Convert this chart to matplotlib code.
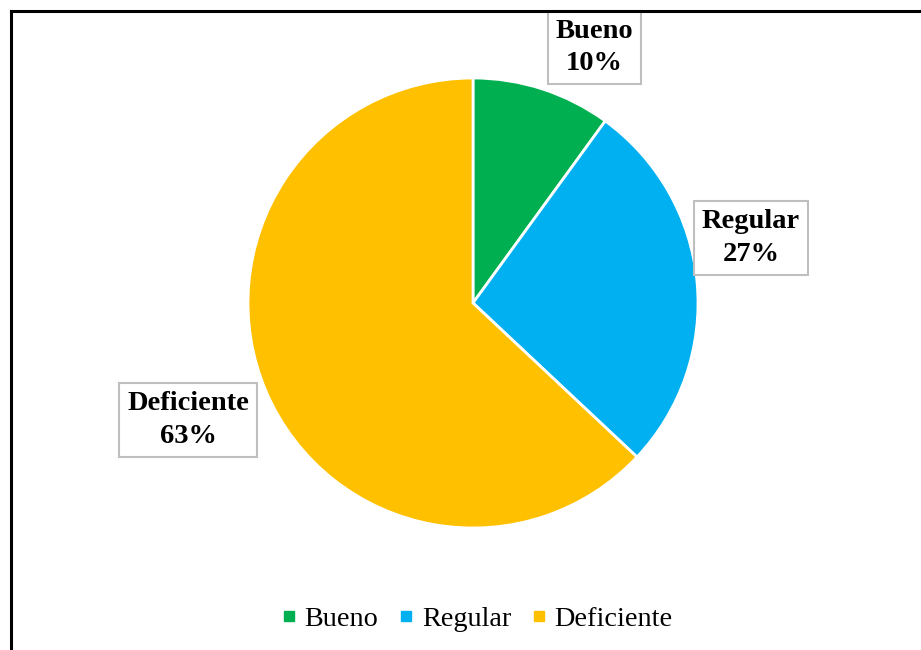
import matplotlib.pyplot as plt
from matplotlib.lines import Line2D

categorias = ['Bueno', 'Regular', 'Deficiente']
porcentajes = [10, 27, 63]
colores = ['#00B050', '#00B0F0', '#FFC000']

plt.rcParams['font.family'] = ['Liberation Serif', 'DejaVu Serif']

fig = plt.figure(figsize=(9.21, 6.5), dpi=100)
ax = fig.add_axes([248/921, 122/650, 450/921, 450/650])
ax.pie(porcentajes, colors=colores, startangle=90, counterclock=False,
       wedgeprops=dict(edgecolor='white', linewidth=2))
ax.set_xlim(-1, 1)
ax.set_ylim(-1, 1)
ax.set_aspect('equal')

# etiquetas en cajas
pos_etq = [(0.54, 1.135), (1.235, 0.29), (-1.265, -0.52)]
for cat, val, (x, y) in zip(categorias, porcentajes, pos_etq):
    ax.text(x, y, "{}\n{}%".format(cat, val), ha='center', va='center',
            fontsize=20.5, fontweight='bold', linespacing=1.4,
            bbox=dict(boxstyle='square,pad=0.28', facecolor='white',
                      edgecolor='#BFBFBF', linewidth=1.5))

# leyenda
handles = [Line2D([], [], marker='s', linestyle='', markersize=7,
                  markerfacecolor=c, markeredgecolor=c) for c in colores]
fig.legend(handles, categorias, loc='center', bbox_to_anchor=(478/921, 1 - 619/650),
           ncol=3, frameon=False, fontsize=20.3, handlelength=0.4,
           handletextpad=0.35, columnspacing=0.8)

# marco
fig.add_artist(Line2D([10.5/921, 10.5/921], [0, 1 - 11/650], color='black',
                      linewidth=2.2, transform=fig.transFigure))
fig.add_artist(Line2D([10.5/921, 1], [1 - 11/650, 1 - 11/650], color='black',
                      linewidth=2.2, transform=fig.transFigure))

fig.savefig('out.png', dpi=100)
